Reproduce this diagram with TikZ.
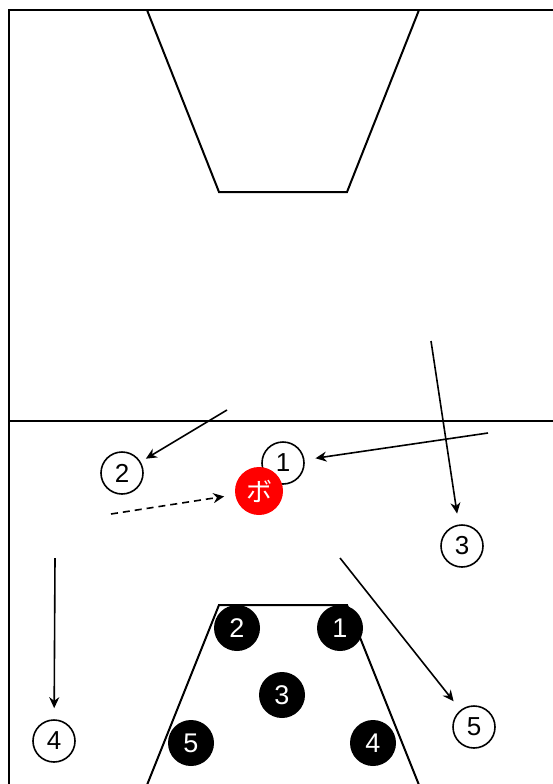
\documentclass[tikz,border=0pt]{standalone}
\usepackage{fontspec}
\setmainfont{Liberation Sans}
\newfontfamily\jpfont{Noto Sans CJK JP}
\usetikzlibrary{arrows.meta, positioning}
\definecolor{ballred}{RGB}{255,0,0}

\tikzset{
  court/.style={line width=2pt, line join=miter},
  offense/.style={circle, draw, line width=1.6pt, minimum size=42pt,
                  inner sep=0pt, font=\fontsize{26}{26}\selectfont},
  defense/.style={circle, fill=black, minimum size=46pt, inner sep=0pt,
                  text=white, font=\fontsize{27}{27}\selectfont},
  ballnode/.style={circle, fill=ballred, minimum size=48pt, inner sep=0pt,
                   text=white, font=\jpfont\fontsize{26}{26}\selectfont},
  move/.style={line width=1.6pt, -{Stealth[length=11pt,width=10pt]},
               shorten >=11pt},
  pass/.style={move, dashed, dash pattern=on 7pt off 5pt}
}

\begin{document}
\begin{tikzpicture}[x=1pt, y=-1pt]
  \clip (0,0) rectangle (553,784);
  \fill[white] (0,0) rectangle (553,784);

  % court
  \draw[court] (9,10) rectangle (557,800);
  \draw[court] (9,421) -- (557,421);
  \draw[court] (147,10) -- (219,192) -- (347,192) -- (419,10);
  \draw[court] (141,800) -- (219,605) -- (347,605) -- (425,800);

  % offense
  \node[offense] (of1) at (283,463) {1};
  \node[offense] (of2) at (122,473) {2};
  \node[offense] (of3) at (462,546) {3};
  \node[offense] (of4) at (54,741)  {4};
  \node[offense] (of5) at (474,727) {5};
  \node[ballnode] (ball) at (259,491) {ボ};

  % defense
  \node[defense] (df1) at (340,628) {1};
  \node[defense] (df2) at (237,628) {2};
  \node[defense] (df3) at (282,695) {3};
  \node[defense] (df4) at (373,743) {4};
  \node[defense] (df5) at (191,743) {5};

  % runs
  \coordinate (s1) at (488,433);
  \coordinate (s2) at (227,410);
  \coordinate (s3) at (431,341);
  \coordinate (s4) at (55,558);
  \coordinate (s5) at (340,558);
  \coordinate (sp) at (111,514);
  \draw[move] (s1) -- (of1);
  \draw[move, shorten >=6pt] (s2) -- (of2);
  \draw[move] (s3) -- (of3);
  \draw[move] (s4) -- (of4);
  \draw[move] (s5) -- (of5);
  \draw[pass] (sp) -- (ball);
\end{tikzpicture}
\end{document}
